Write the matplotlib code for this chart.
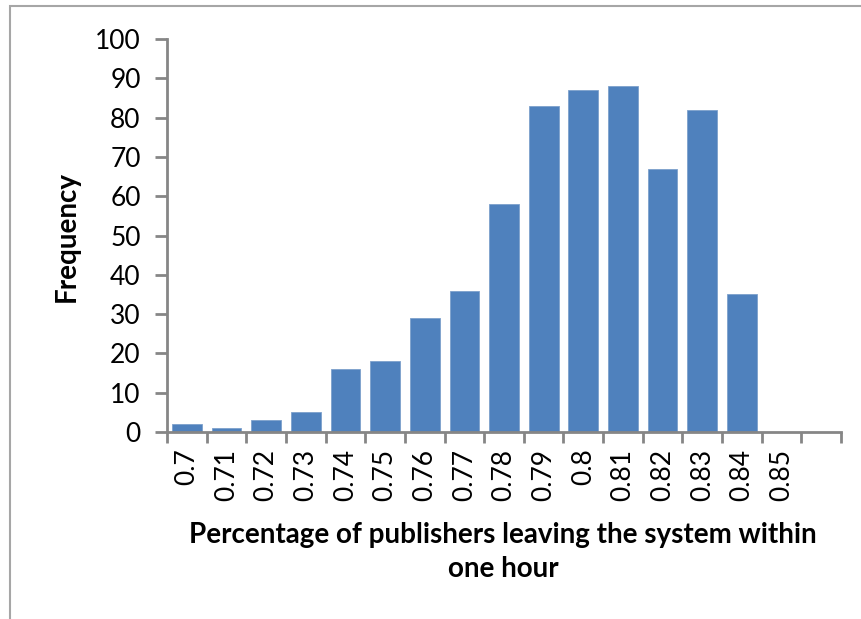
import matplotlib.pyplot as plt
from matplotlib.patches import Rectangle

# data
categorias = ['0.7', '0.71', '0.72', '0.73', '0.74', '0.75', '0.76', '0.77', '0.78',
              '0.79', '0.8', '0.81', '0.82', '0.83', '0.84', '0.85', '']
frecuencias = [2, 1, 3, 5, 16, 18, 29, 36, 58, 83, 87, 88, 67, 82, 35, 0, 0]

plt.rcParams['font.family'] = ['Lato', 'DejaVu Sans']
gris = '#868686'

fig = plt.figure(figsize=(8.61, 6.19), dpi=100)
ax = fig.add_axes([0.194, 0.302, 0.7828, 0.635])

x = list(range(len(categorias)))
ax.bar(x, frecuencias, width=0.75, color='#4F81BD', edgecolor='#7da0cc', linewidth=0.6, zorder=2)

ax.set_xlim(-0.5, len(categorias) - 0.5)
ax.set_ylim(0, 100)
ax.set_yticks(range(0, 101, 10))
ax.set_xticks(x)
ax.set_xticklabels(categorias, rotation=90, fontsize=19)
ax.tick_params(axis='y', labelsize=19, length=9, width=2, color=gris, direction='out', pad=10)
# tick marks between categories, like Excel
ax.set_xticks([i - 0.5 for i in range(len(categorias) + 1)], minor=True)
ax.tick_params(axis='x', which='major', length=0, pad=12)
ax.tick_params(axis='x', which='minor', length=8, width=2, color=gris)

for lado in ['top', 'right']:
    ax.spines[lado].set_visible(False)
for lado in ['left', 'bottom']:
    ax.spines[lado].set_color(gris)
    ax.spines[lado].set_linewidth(2)

fig.text(0.584, 0.108, 'Percentage of publishers leaving the system within\none hour',
         ha='center', va='center', fontsize=20, fontweight='bold', linespacing=1.35)
fig.text(0.078, 0.618, 'Frequency', rotation=90, ha='center', va='center',
         fontsize=20, fontweight='bold')

# marco del grafico (solo se ve arriba y a la izquierda)
fig.patches.append(Rectangle((0.012, -0.1), 1.2, 1.09, transform=fig.transFigure,
                             fill=False, edgecolor='#a6a6a6', linewidth=1.5))

fig.savefig('out.png', dpi=100)
